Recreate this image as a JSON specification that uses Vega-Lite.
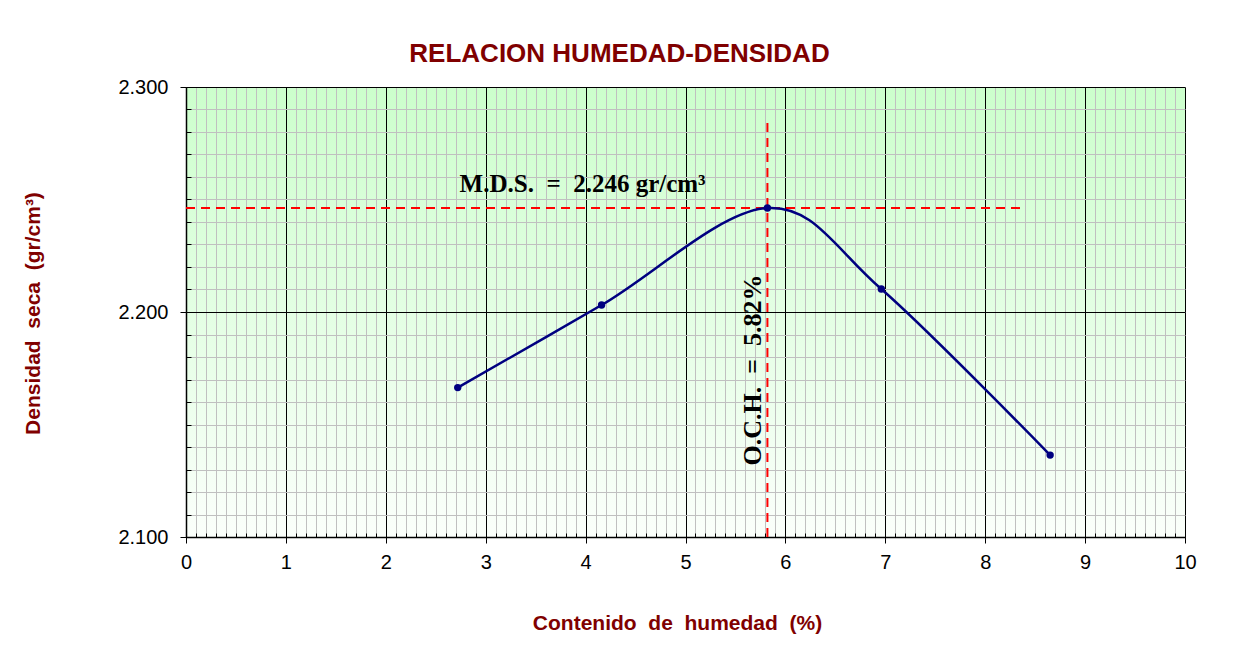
{
  "$schema": "https://vega.github.io/schema/vega-lite/v6.json",
  "width": 999,
  "height": 450,
  "autosize": "none",
  "padding": {"left": 186, "top": 87, "right": 48, "bottom": 111},
  "background": "white",
  "title": {
    "text": "RELACION HUMEDAD-DENSIDAD",
    "font": "Liberation Sans",
    "fontSize": 26,
    "fontWeight": "bold",
    "color": "#800000",
    "anchor": "middle",
    "frame": "group",
    "dx": -66,
    "offset": 10
  },
  "view": {
    "stroke": null,
    "fill": {
      "gradient": "linear",
      "x1": 0, "y1": 0, "x2": 0, "y2": 1,
      "stops": [
        {"offset": 0, "color": "#ccffcc"},
        {"offset": 1, "color": "#fbfffb"}
      ]
    }
  },
  "datasets": {
    "ensayo": [
      {"w": 2.72, "d": 2.1664},
      {"w": 4.16, "d": 2.2031},
      {"w": 5.82, "d": 2.2462},
      {"w": 6.96, "d": 2.2102},
      {"w": 8.65, "d": 2.1364}
    ],
    "optimo": [
      {"och": 5.82, "mds": 2.2462}
    ]
  },
  "layer": [
    {
      "data": {"name": "optimo"},
      "mark": {"type": "rule", "color": "#ff0000", "strokeWidth": 2, "strokeDash": [9, 6]},
      "encoding": {
        "y": {"field": "mds", "type": "quantitative", "scale": {"domain": [2.1, 2.3]}, "axis": null},
        "x": {"datum": 0, "type": "quantitative", "scale": {"domain": [0, 10]}, "axis": null},
        "x2": {"datum": 8.37}
      }
    },
    {
      "data": {"name": "optimo"},
      "mark": {"type": "rule", "color": "#ff0000", "strokeWidth": 2, "strokeDash": [9, 6]},
      "encoding": {
        "x": {"field": "och", "type": "quantitative", "axis": null},
        "y": {"datum": 2.1, "type": "quantitative", "axis": null},
        "y2": {"datum": 2.285}
      }
    },
    {
      "data": {"name": "ensayo"},
      "mark": {"type": "line", "color": "#000080", "strokeWidth": 2.5, "interpolate": "cardinal", "tension": 0},
      "encoding": {
        "x": {
          "field": "w", "type": "quantitative",
          "axis": {
            "orient": "bottom", "tickCount": 100, "grid": true, "gridColor": "#c0c0c0", "gridWidth": 1,
            "labels": false, "domain": false, "ticks": true, "tickSize": -4, "tickColor": "#000000", "title": null
          }
        },
        "y": {
          "field": "d", "type": "quantitative",
          "axis": {
            "orient": "left", "tickCount": 20, "grid": true, "gridColor": "#c0c0c0", "gridWidth": 1,
            "labels": false, "domain": false, "ticks": true, "tickSize": -5, "tickColor": "#000000", "title": null
          }
        }
      }
    },
    {
      "data": {"name": "ensayo"},
      "mark": {"type": "point", "filled": true, "color": "#000080", "size": 55, "opacity": 1},
      "encoding": {
        "x": {
          "field": "w", "type": "quantitative",
          "axis": {
            "orient": "bottom", "values": [0, 1, 2, 3, 4, 5, 6, 7, 8, 9, 10], "format": "d",
            "grid": true, "gridColor": "#000000", "gridWidth": 1,
            "domain": true, "domainColor": "#000000", "domainWidth": 1.5,
            "ticks": true, "tickSize": 6, "tickColor": "#000000",
            "labelFont": "Liberation Sans", "labelFontSize": 20, "labelColor": "#000000", "labelPadding": 9,
            "labelFlush": false, "labelOverlap": false,
            "title": "Contenido\u00a0 de\u00a0 humedad\u00a0 (%)",
            "titleFont": "Liberation Sans", "titleFontSize": 21, "titleFontWeight": "bold", "titleColor": "#800000",
            "titleX": 491, "titleY": 86, "titleBaseline": "middle", "titleAlign": "center"
          }
        },
        "y": {
          "field": "d", "type": "quantitative",
          "axis": {
            "orient": "left", "values": [2.1, 2.2, 2.3], "format": ".3f",
            "grid": true, "gridColor": "#000000", "gridWidth": 1,
            "domain": true, "domainColor": "#000000", "domainWidth": 1.5,
            "ticks": true, "tickSize": 6, "tickColor": "#000000",
            "labelFont": "Liberation Sans", "labelFontSize": 20, "labelColor": "#000000", "labelPadding": 12,
            "labelFlush": false, "labelOverlap": false,
            "title": "Densidad\u00a0 seca\u00a0 (gr/cm³)",
            "titleFont": "Liberation Sans", "titleFontSize": 21, "titleFontWeight": "bold", "titleColor": "#800000",
            "titleX": -153, "titleY": 226, "titleBaseline": "middle", "titleAlign": "center", "titleAngle": 270
          }
        }
      }
    },
    {
      "data": {"name": "optimo"},
      "mark": {"type": "text", "text": "M.D.S.\u00a0 =\u00a0 2.246 gr/cm³", "font": "Liberation Serif", "fontSize": 25, "fontWeight": "bold", "color": "#000000", "align": "center", "baseline": "alphabetic"},
      "encoding": {
        "x": {"datum": 3.97, "type": "quantitative", "axis": null},
        "y": {"datum": 2.2535, "type": "quantitative", "axis": null}
      }
    },
    {
      "data": {"name": "optimo"},
      "mark": {"type": "text", "text": "O.C.H.\u00a0 =\u00a0 5.82%", "font": "Liberation Serif", "fontSize": 26, "fontWeight": "bold", "color": "#000000", "align": "center", "baseline": "alphabetic", "angle": 270},
      "encoding": {
        "x": {"datum": 5.76, "type": "quantitative", "axis": null},
        "y": {"datum": 2.1742, "type": "quantitative", "axis": null}
      }
    }
  ],
  "resolve": {"axis": {"x": "independent", "y": "independent"}}
}
